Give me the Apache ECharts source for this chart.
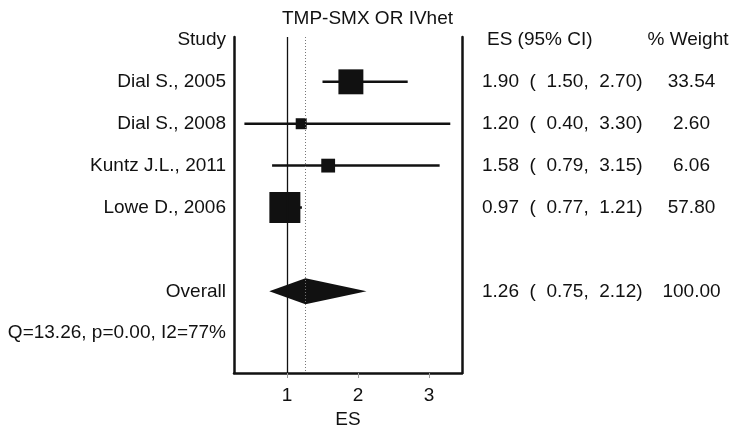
<!DOCTYPE html>
<html>
<head>
<meta charset="utf-8">
<script src="https://cdn.jsdelivr.net/npm/echarts@6/dist/echarts.min.js"></script>
<style>
    html, body { margin: 0; padding: 0; background: #fff; }
    #chart { width: 735px; height: 430px; }
</style>
</head>
<body>
<div id="chart"></div>
<script>
// study data
var studies = ['Dial S., 2005', 'Dial S., 2008', 'Kuntz J.L., 2011', 'Lowe D., 2006'];
var es = [1.90, 1.20, 1.58, 0.97];
var lo = [1.50, 0.40, 0.79, 0.77];
var hi = [2.70, 3.30, 3.15, 1.21];
var weight = [33.54, 2.60, 6.06, 57.80];

// pooled estimate
var overallEs = 1.26;
var overallLo = 0.75;
var overallHi = 2.12;
var overallWeight = 100.00;

var hetText = 'Q=13.26, p=0.00, I2=77%';
var xTicks = [1, 2, 3];

// rows: 0 header, 1..4 studies, 6 overall, 7 heterogeneity
var studyRows = [1, 2, 3, 4];
var overallRow = 6;
var hetRow = 7;

var txt = '#111';
var fontSize = 19;
var fontFamily = '"Liberation Sans", Arial, sans-serif';

function fmt(v) {
    return v.toFixed(2);
}

function leftLabel(row) {
    if (row === 0) return 'Study';
    if (row === overallRow) return 'Overall';
    if (row === hetRow) return hetText;
    return studies[studyRows.indexOf(row)];
}

function esLabel(row) {
    if (row === 0) return '{h|ES (95% CI)}';
    var i = studyRows.indexOf(row);
    if (row === overallRow) return fmt(overallEs) + '  (  ' + fmt(overallLo) + ',  ' + fmt(overallHi) + ')';
    return fmt(es[i]) + '  (  ' + fmt(lo[i]) + ',  ' + fmt(hi[i]) + ')';
}

function weightLabel(row) {
    if (row === 0) return '{h|% Weight}';
    if (row === overallRow) return fmt(overallWeight);
    return fmt(weight[studyRows.indexOf(row)]);
}

var myChart = echarts.init(document.getElementById('chart'));

var yBase = {
    type: 'value',
    inverse: true,
    min: -0.07,
    max: 7.95,
    splitLine: { show: false },
    axisTick: { show: false }
};

var ciData = [];
var sqData = [];
for (var i = 0; i < studies.length; i++) {
    ciData.push([lo[i], hi[i], studyRows[i]]);
    sqData.push([es[i], studyRows[i]]);
}

var option = {
    animation: false,
    backgroundColor: '#fff',
    textStyle: { fontFamily: fontFamily },
    title: {
        text: 'TMP-SMX OR IVhet',
        left: 'center',
        top: 4,
        textStyle: { fontSize: fontSize, fontWeight: 'normal', color: txt, fontFamily: fontFamily }
    },
    grid: { left: 234, right: 273, top: 37, bottom: 57, outerBoundsMode: 'none', containLabel: false },
    xAxis: {
        type: 'value',
        min: 0.2535,
        max: 3.465,
        splitLine: { show: false },
        axisLine: { onZero: false, lineStyle: { color: txt, width: 2.5 } },
        axisTick: { customValues: xTicks, length: 5, lineStyle: { color: '#999' } },
        axisLabel: { customValues: xTicks, fontSize: fontSize, color: txt, margin: 13 },
        name: 'ES',
        nameLocation: 'middle',
        nameGap: 32,
        nameTextStyle: { fontSize: fontSize, color: txt }
    },
    yAxis: [
        Object.assign({}, yBase, {
            position: 'left',
            axisLine: { show: true, onZero: false, lineStyle: { color: txt, width: 2.5 } },
            axisLabel: {
                customValues: [0, 1, 2, 3, 4, overallRow, hetRow],
                fontSize: fontSize, color: txt, margin: 8,
                formatter: function (v) { return leftLabel(Math.round(v)); }
            }
        }),
        Object.assign({}, yBase, {
            position: 'right',
            axisLine: { show: true, onZero: false, lineStyle: { color: txt, width: 2.5 } },
            axisLabel: {
                customValues: [0, 1, 2, 3, 4, overallRow],
                fontSize: fontSize, color: txt, margin: 20, align: 'left',
                formatter: function (v) { return esLabel(Math.round(v)); },
                rich: { h: { fontSize: fontSize, color: txt, padding: [0, 0, 0, 5] } }
            }
        }),
        Object.assign({}, yBase, {
            position: 'right',
            axisLine: { show: false },
            axisLabel: {
                customValues: [0, 1, 2, 3, 4, overallRow],
                fontSize: fontSize, color: txt, margin: 229.5, align: 'center',
                formatter: function (v) { return weightLabel(Math.round(v)); },
                rich: { h: { fontSize: fontSize, color: txt, padding: [0, 7, 0, 0] } }
            }
        })
    ],
    series: [
        {
            // confidence intervals + reference lines
            type: 'custom',
            z: 1,
            data: ciData,
            renderItem: function (params, api) {
                var a = api.coord([api.value(0), api.value(2)]);
                var b = api.coord([api.value(1), api.value(2)]);
                return {
                    type: 'line',
                    shape: { x1: a[0], y1: a[1], x2: b[0], y2: b[1] },
                    style: { stroke: txt, lineWidth: 2.5 }
                };
            },
            markLine: {
                silent: true,
                symbol: 'none',
                label: { show: false },
                data: [
                    { xAxis: 1, lineStyle: { color: txt, width: 1.3, type: 'solid' } },
                    { xAxis: overallEs, lineStyle: { color: '#777', width: 1, type: [1, 2] } }
                ]
            }
        },
        {
            // study boxes, area by weight
            type: 'scatter',
            z: 3,
            symbol: 'rect',
            data: sqData,
            symbolSize: function (val, params) {
                return 5.6 + 3.34 * Math.sqrt(weight[params.dataIndex]);
            },
            itemStyle: { color: txt, opacity: 1 }
        },
        {
            // pooled diamond
            type: 'custom',
            z: 4,
            data: [[overallLo, overallEs, overallHi, overallRow]],
            renderItem: function (params, api) {
                var row = api.value(3);
                var l = api.coord([api.value(0), row]);
                var c = api.coord([api.value(1), row]);
                var r = api.coord([api.value(2), row]);
                var h = 13;
                return {
                    type: 'polygon',
                    shape: { points: [[l[0], l[1]], [c[0], c[1] - h], [r[0], r[1]], [c[0], c[1] + h]] },
                    style: { fill: txt }
                };
            }
        }
    ]
};

myChart.setOption(option);
</script>
</body>
</html>
